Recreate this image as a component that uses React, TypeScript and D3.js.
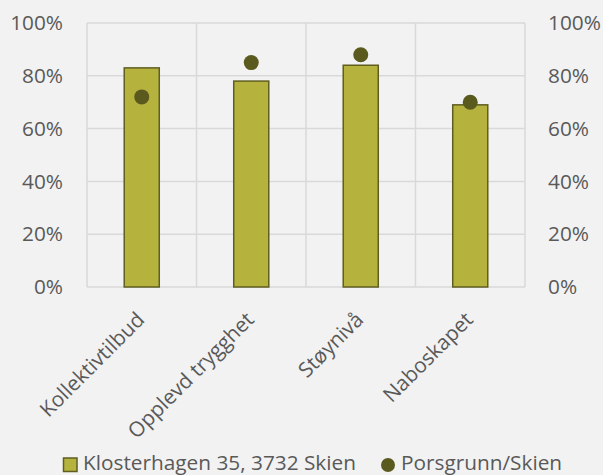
import React from "react";
import * as d3 from "d3";

const categories = ["Kollektivtilbud", "Opplevd trygghet", "Støynivå", "Naboskapet"];
const klosterhagen = [0.83, 0.78, 0.84, 0.69];
const porsgrunn = [0.72, 0.85, 0.88, 0.70];
const yTicks = [0, 0.2, 0.4, 0.6, 0.8, 1.0];
const seriesNames = ["Klosterhagen 35, 3732 Skien", "Porsgrunn/Skien"];

const W = 603;
const H = 475;
const FONT = "'Open Sans', sans-serif";
const FS = 20.8;
const TEXT = "#595959";
const GRID = "#d9d9d9";
const BAR_FILL = "#b5b33d";
const BAR_STROKE = "#5f5e20";
const DOT = "#5b5a1e";

const App = () => {
  const margin = { top: 23, right: 78, bottom: 188, left: 87 };
  const x = d3
    .scaleBand<string>()
    .domain(categories)
    .range([margin.left, W - margin.right])
    .paddingInner(0)
    .paddingOuter(0);
  const y = d3.scaleLinear().domain([0, 1]).range([H - margin.bottom, margin.top]);
  const fmt = d3.format(".0%");
  const barW = x.bandwidth() * 0.32;

  return (
    <div style={{ position: "absolute", left: 0, top: 0 }}>
      <svg width={W} height={H} style={{ display: "block", background: "#f2f2f2" }}>
        {/* horizontal grid */}
        {yTicks.map((t) => (
          <line
            key={"h" + t}
            x1={margin.left}
            x2={W - margin.right}
            y1={y(t)}
            y2={y(t)}
            stroke={GRID}
            strokeWidth={1.5}
          />
        ))}
        {/* vertical grid at category boundaries */}
        {[...categories.map((c) => x(c) as number), W - margin.right].map((v, i) => (
          <line
            key={"v" + i}
            x1={v}
            x2={v}
            y1={y(1)}
            y2={y(0)}
            stroke={GRID}
            strokeWidth={1.5}
          />
        ))}

        {/* bars */}
        {categories.map((c, i) => {
          const cx = (x(c) as number) + x.bandwidth() / 2;
          return (
            <rect
              key={"b" + c}
              x={cx - barW / 2}
              y={y(klosterhagen[i])}
              width={barW}
              height={y(0) - y(klosterhagen[i])}
              fill={BAR_FILL}
              stroke={BAR_STROKE}
              strokeWidth={1.5}
            />
          );
        })}

        {/* dots */}
        {categories.map((c, i) => (
          <circle
            key={"d" + c}
            cx={(x(c) as number) + x.bandwidth() / 2}
            cy={y(porsgrunn[i])}
            r={7.5}
            fill={DOT}
          />
        ))}

        {/* y tick labels left & right */}
        {yTicks.map((t) => (
          <g key={"t" + t} fontFamily={FONT} fontSize={FS} fill={TEXT}>
            <text x={63} y={y(t)} dy="0.35em" textAnchor="end">
              {fmt(t)}
            </text>
            <text x={548} y={y(t)} dy="0.35em" textAnchor="start">
              {fmt(t)}
            </text>
          </g>
        ))}

        {/* category labels */}
        {categories.map((c) => {
          const cx = (x(c) as number) + x.bandwidth() / 2;
          return (
            <text
              key={"c" + c}
              transform={`translate(${cx + 4},${321}) rotate(-45)`}
              textAnchor="end"
              fontFamily={FONT}
              fontSize={FS}
              fill={TEXT}
            >
              {c}
            </text>
          );
        })}

        {/* legend */}
        <g fontFamily={FONT} fontSize={FS} fill={TEXT}>
          <rect x={63.5} y={458} width={13.5} height={13.5} fill={BAR_FILL} stroke={BAR_STROKE} strokeWidth={1.5} />
          <text x={83} y={469.5}>
            {seriesNames[0]}
          </text>
          <circle cx={388} cy={465} r={7} fill={DOT} />
          <text x={401} y={469.5}>
            {seriesNames[1]}
          </text>
        </g>
      </svg>
    </div>
  );
};

export default App;
